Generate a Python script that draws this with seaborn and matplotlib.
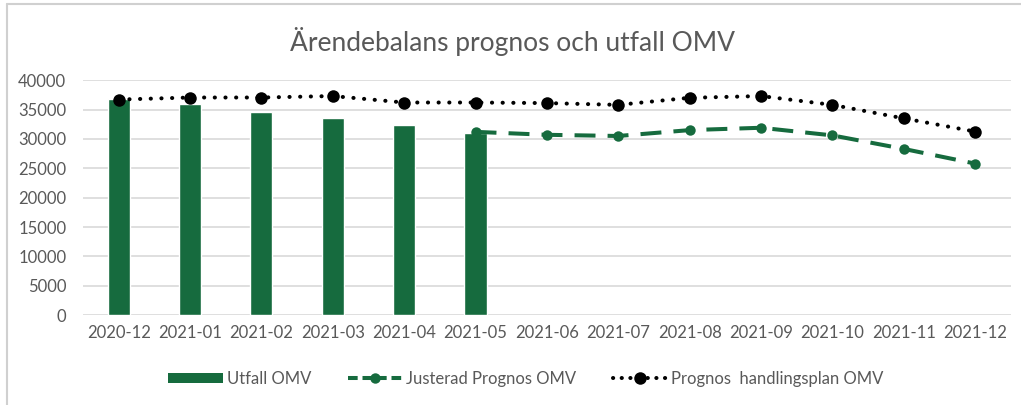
import matplotlib
matplotlib.use("Agg")
import matplotlib.pyplot as plt
import seaborn as sns
import numpy as np
from matplotlib.lines import Line2D
from matplotlib.patches import Patch

# data
months = ['2020-12', '2021-01', '2021-02', '2021-03', '2021-04', '2021-05', '2021-06',
          '2021-07', '2021-08', '2021-09', '2021-10', '2021-11', '2021-12']
utfall = [36800, 35900, 34600, 33500, 32300, 31000]
justerad = [31200, 30700, 30500, 31500, 31900, 30600, 28300, 25800]
handlingsplan = [36700, 37050, 37050, 37300, 36200, 36200, 36100, 35800,
                 37000, 37300, 35800, 33500, 31250]
yticks = [0, 5000, 10000, 15000, 20000, 25000, 30000, 35000, 40000]

green = '#166b3e'
grey_txt = '#595959'
grid_c = '#d9d9d9'

sns.set_style('white')
plt.rcParams['font.family'] = ['Lato', 'DejaVu Sans']

fig = plt.figure(figsize=(10.21, 4.05), dpi=100)
ax = fig.add_axes([0.0813, 0.222, 0.9087, 0.580])

sns.barplot(x=months[:len(utfall)], y=utfall, order=months, color=green,
            width=0.31, saturation=1, ax=ax, zorder=2)

pos = np.arange(len(months))
sns.lineplot(x=pos[len(months) - len(justerad):], y=justerad, ax=ax, color=green,
             lw=2.9, linestyle=(0, (5.2, 3.0)), marker='o', markersize=7.5,
             markeredgewidth=0, zorder=3)
sns.lineplot(x=pos, y=handlingsplan, ax=ax, color='black', lw=2.9,
             linestyle=(0, (0.05, 2.6)), dash_capstyle='round', marker='o',
             markersize=9, markeredgewidth=0, zorder=4)

ax.set_xlim(-0.5, len(months) - 0.5)
ax.set_ylim(0, 40000)
ax.set_yticks(yticks)
ax.set_yticklabels([str(v) for v in yticks])
ax.set_xticks(pos)
ax.set_xticklabels(months)
ax.yaxis.grid(True, color=grid_c, lw=1.2)
ax.set_axisbelow(True)
for s in ax.spines.values():
    s.set_visible(False)
ax.tick_params(axis='both', length=0, colors=grey_txt, labelsize=12)
ax.tick_params(axis='y', pad=12)
ax.tick_params(axis='x', pad=7)
ax.set_xlabel('')
ax.set_ylabel('')

fig.text(0.502, 0.898, 'Ärendebalans prognos och utfall OMV', ha='center', va='center',
         fontsize=19, color=grey_txt)

handles = [
    Patch(facecolor=green, edgecolor='none'),
    Line2D([], [], color=green, lw=2.9, linestyle=(0, (2.4, 1.2)), marker='o',
           markersize=7.5, markeredgewidth=0),
    Line2D([], [], color='black', lw=2.9, linestyle=(0, (0.05, 2.1)),
           dash_capstyle='round', marker='o', markersize=9, markeredgewidth=0),
]
labels = ['Utfall OMV', 'Justerad Prognos OMV', 'Prognos  handlingsplan OMV']
leg = fig.legend(handles, labels, loc='center', bbox_to_anchor=(0.515, 0.065), ncol=3,
                 frameon=False, fontsize=12, handlelength=3.3, handleheight=0.6,
                 columnspacing=2.2, handletextpad=0.2)
for t in leg.get_texts():
    t.set_color(grey_txt)

# outer chart border (partly cropped in the reference)
fig.add_artist(Line2D([7 / 1021, 7 / 1021], [0, 1 - 4 / 405], transform=fig.transFigure,
                      color='#d0d0d0', lw=1.5))
fig.add_artist(Line2D([7 / 1021, 1], [1 - 4 / 405, 1 - 4 / 405], transform=fig.transFigure,
                      color='#d0d0d0', lw=1.5))

fig.savefig('out.png', dpi=100)
